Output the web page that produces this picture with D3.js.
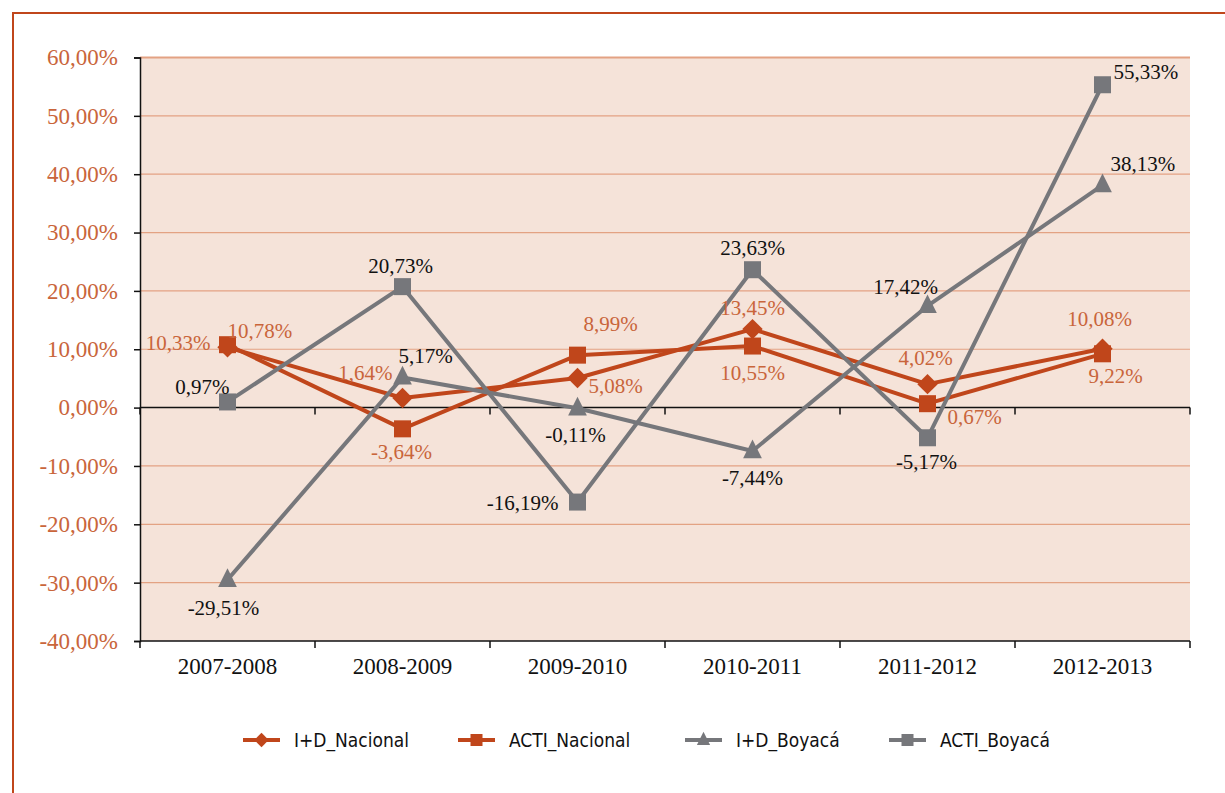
<!DOCTYPE html>
<html>
<head>
<meta charset="utf-8">
<script src="https://cdn.jsdelivr.net/npm/d3@7"></script>
<style>
  body { margin: 0; background: #fff; }
  svg { display: block; }
</style>
</head>
<body>
<svg id="chart" width="1225" height="793"></svg>
<script>
// data
const periods = ["2007-2008", "2008-2009", "2009-2010", "2010-2011", "2011-2012", "2012-2013"];
const idNacional = [10.33, 1.64, 5.08, 13.45, 4.02, 10.08];
const actiNacional = [10.78, -3.64, 8.99, 10.55, 0.67, 9.22];
const idBoyaca = [-29.51, 5.17, -0.11, -7.44, 17.42, 38.13];
const actiBoyaca = [0.97, 20.73, -16.19, 23.63, -5.17, 55.33];
const yTicks = [-40, -30, -20, -10, 0, 10, 20, 30, 40, 50, 60];

const orange = "#c0461b";
const orangeText = "#c9653b";
const gray = "#76777b";

// label placement per point: [dx, dy, anchor]
const series = [
  { name: "I+D_Nacional", values: idNacional, color: orange, text: orangeText, marker: "diamond",
    labels: [[-17, 3, "end"], [-10, -18, "end"], [11, 15, "start"], [0, -14, "middle"], [-2, -19, "middle"], [-3, -23, "middle"]] },
  { name: "ACTI_Nacional", values: actiNacional, color: orange, text: orangeText, marker: "square",
    labels: [[0, -7, "start"], [-1, 30, "middle"], [6, -24, "start"], [0, 34, "middle"], [20, 20, "start"], [13, 29, "middle"]] },
  { name: "I+D_Boyacá", values: idBoyaca, color: gray, text: "#111", marker: "triangle",
    labels: [[-4, 35, "middle"], [23, -14, "middle"], [-2, 34, "middle"], [0, 34, "middle"], [-22, -12, "middle"], [8, -14, "start"]] },
  { name: "ACTI_Boyacá", values: actiBoyaca, color: gray, text: "#111", marker: "square",
    labels: [[2, -8, "end"], [-2, -14, "middle"], [-19, 8, "end"], [0, -15, "middle"], [-1, 31, "middle"], [11, -6, "start"]] }
];

const svg = d3.select("#chart");
const serif = "'Liberation Serif', 'DejaVu Serif', serif";
const sans = "'Liberation Sans Narrow', 'DejaVu Sans Condensed', 'Liberation Sans', sans-serif";
const locale = d3.formatLocale({ decimal: ",", thousands: ".", grouping: [3], currency: ["", ""], minus: "-" });
const fmt = v => locale.format(".2f")(v) + "%";

// outer frame
svg.append("path")
  .attr("d", "M13,793 L13,13 L1225,13")
  .attr("fill", "none")
  .attr("stroke", "#c0461b")
  .attr("stroke-width", 2);

const plotLeft = 140, plotRight = 1190, plotTop = 57.5, plotBottom = 641;

const x = d3.scaleBand().domain(periods).range([plotLeft, plotRight]);
const y = d3.scaleLinear().domain([-40, 60]).range([plotBottom, plotTop]);

// plot background
svg.append("rect")
  .attr("x", plotLeft).attr("y", plotTop)
  .attr("width", plotRight - plotLeft).attr("height", plotBottom - plotTop)
  .attr("fill", "#f5e3d9");

// gridlines
svg.append("g").selectAll("line")
  .data(yTicks.filter(d => d !== 0 && d !== -40))
  .enter().append("line")
  .attr("x1", plotLeft).attr("x2", plotRight)
  .attr("y1", d => y(d)).attr("y2", d => y(d))
  .attr("stroke", "#e3a283")
  .attr("stroke-width", d => d === 60 ? 2 : 1.2);

// y axis
const yAxis = svg.append("g")
  .attr("transform", `translate(${plotLeft},0)`)
  .call(d3.axisLeft(y).tickValues(yTicks).tickSize(6).tickPadding(16).tickFormat(fmt));
yAxis.select(".domain").attr("stroke", "#111").attr("stroke-width", 1.5);
yAxis.selectAll(".tick line").attr("stroke", "#111").attr("stroke-width", 1.5);
yAxis.selectAll("text")
  .attr("fill", orangeText)
  .attr("font-family", serif)
  .attr("font-size", 23);

// category axis ticks at zero line and at bottom
const boundaries = d3.range(periods.length + 1).map(i => plotLeft + i * x.bandwidth());
[y(0), plotBottom].forEach(yy => {
  svg.append("line")
    .attr("x1", plotLeft).attr("x2", plotRight)
    .attr("y1", yy).attr("y2", yy)
    .attr("stroke", "#111").attr("stroke-width", 1.5);
  svg.append("g").selectAll("line")
    .data(boundaries)
    .enter().append("line")
    .attr("x1", d => d).attr("x2", d => d)
    .attr("y1", yy).attr("y2", yy + 7)
    .attr("stroke", "#111").attr("stroke-width", 1.5);
});

// category labels
svg.append("g").selectAll("text")
  .data(periods)
  .enter().append("text")
  .attr("x", d => x(d) + x.bandwidth() / 2)
  .attr("y", 674)
  .attr("text-anchor", "middle")
  .attr("font-family", serif)
  .attr("font-size", 23)
  .attr("fill", "#111")
  .text(d => d);

function drawMarker(g, type, cx, cy, color, s) {
  if (type === "square") {
    g.append("rect")
      .attr("x", cx - s / 2).attr("y", cy - s / 2)
      .attr("width", s).attr("height", s)
      .attr("fill", color);
  } else if (type === "diamond") {
    const r = s * 0.6;
    g.append("path")
      .attr("d", `M${cx},${cy - r} L${cx + r},${cy} L${cx},${cy + r} L${cx - r},${cy} Z`)
      .attr("fill", color);
  } else {
    g.append("path")
      .attr("d", `M${cx},${cy - s * 0.68} L${cx + s * 0.55},${cy + s * 0.42} L${cx - s * 0.55},${cy + s * 0.42} Z`)
      .attr("fill", color);
  }
}

const line = d3.line()
  .x((d, i) => x(periods[i]) + x.bandwidth() / 2)
  .y(d => y(d));

// series lines + markers
series.forEach(s => {
  const g = svg.append("g");
  g.append("path")
    .datum(s.values)
    .attr("d", line)
    .attr("fill", "none")
    .attr("stroke", s.color)
    .attr("stroke-width", 4)
    .attr("stroke-linejoin", "round");
  s.values.forEach((v, i) => {
    drawMarker(g, s.marker, x(periods[i]) + x.bandwidth() / 2, y(v), s.color, 17);
  });
});

// data labels
series.forEach(s => {
  svg.append("g").selectAll("text")
    .data(s.values)
    .enter().append("text")
    .attr("x", (d, i) => x(periods[i]) + x.bandwidth() / 2 + s.labels[i][0])
    .attr("y", (d, i) => y(d) + s.labels[i][1])
    .attr("text-anchor", (d, i) => s.labels[i][2])
    .attr("font-family", serif)
    .attr("font-size", 21)
    .attr("fill", s.text)
    .text(d => fmt(d));
});

// legend
const legendX = [243, 458, 685, 889];
const legend = svg.append("g");
series.forEach((s, i) => {
  const lx = legendX[i], ly = 740;
  legend.append("line")
    .attr("x1", lx).attr("x2", lx + 37)
    .attr("y1", ly).attr("y2", ly)
    .attr("stroke", s.color).attr("stroke-width", 4);
  drawMarker(legend, s.marker, lx + 18.5, ly, s.color, 12);
  legend.append("text")
    .attr("x", lx + 51)
    .attr("y", ly + 7)
    .attr("font-family", sans)
    .attr("font-size", 19)
    .attr("fill", "#111")
    .text(s.name);
});
</script>
</body>
</html>
